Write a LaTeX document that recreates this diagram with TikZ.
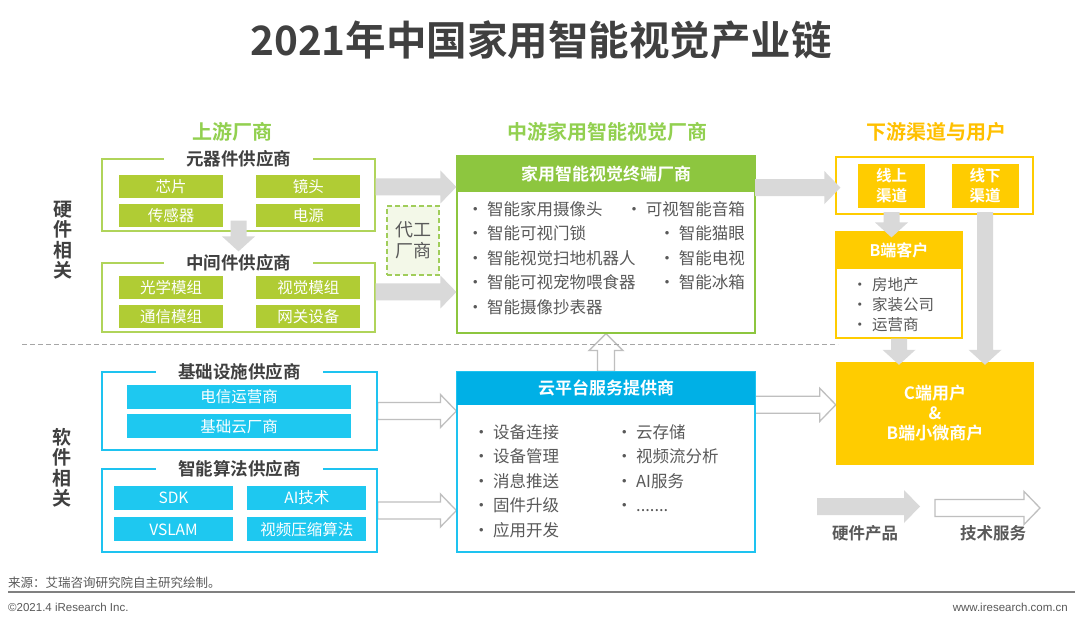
\documentclass[tikz,border=0pt]{standalone}
\usepackage{fontspec}
\setmainfont{Noto Sans CJK SC}[BoldFont={Noto Sans CJK SC Bold}]
\newfontfamily\latinfont{Liberation Sans}
\usetikzlibrary{positioning,calc,backgrounds}

\definecolor{titlegray}{RGB}{64,64,64}
\definecolor{txtgray}{RGB}{89,89,89}
\definecolor{secgreen}{RGB}{146,208,80}
\definecolor{termgreen}{RGB}{141,198,63}
\definecolor{greenline}{RGB}{176,212,90}
\definecolor{itemgreen}{RGB}{176,204,52}
\definecolor{oemline}{RGB}{160,205,90}
\definecolor{oemfill}{RGB}{243,248,232}
\definecolor{yel}{RGB}{255,204,0}
\definecolor{secyellow}{RGB}{255,192,0}
\definecolor{cyanline}{RGB}{30,195,240}
\definecolor{itemcyan}{RGB}{30,200,240}
\definecolor{cloudblue}{RGB}{0,176,230}
\definecolor{arrowgray}{RGB}{217,217,217}
\definecolor{hollowgray}{RGB}{191,191,191}
\definecolor{dashgray}{RGB}{166,166,166}
\definecolor{footgray}{RGB}{128,128,128}

\newcommand\bul{\makebox[20pt][l]{\textbullet}}

\begin{document}
\begin{tikzpicture}[
  x=1pt, y=-1pt,
  every node/.style={inner sep=0pt, text=txtgray},
  grp/.style={draw, line width=1.2pt},
  grptitle/.style={fill=white, inner xsep=22pt, inner ysep=1pt, text=titlegray, font=\bfseries\fontsize{17.5}{20}\selectfont},
  gitem/.style={fill=itemgreen, text=white, minimum width=104pt, minimum height=23pt, font=\fontsize{15.5}{18}\selectfont},
  citem/.style={fill=itemcyan, text=white, minimum height=24pt, font=\fontsize{15.5}{18}\selectfont},
  head/.style={anchor=north, text=white, font=\bfseries\fontsize{17}{20}\selectfont},
  lst/.style={align=left, anchor=north west, font=\fontsize{16.5}{24.5}\selectfont},
  sec/.style={font=\bfseries\fontsize{20}{24}\selectfont},
  side/.style={align=center, text=titlegray, font=\bfseries\fontsize{19}{20.5}\selectfont},
  ychan/.style={fill=yel, text=white, minimum width=67pt, minimum height=44pt, align=center, font=\bfseries\fontsize{15.5}{20}\selectfont},
  legend/.style={text=txtgray, font=\bfseries\fontsize{16.5}{20}\selectfont},
  gblk/.style={fill=arrowgray},
  hblk/.style={draw=hollowgray, line width=1.3pt, fill=white},
  rblk/.style={to path={let \p1=(\tikztostart), \p2=(\tikztotarget) in
    (\x1,\y1+8.5pt) -- (\x2-16pt,\y1+8.5pt) -- (\x2-16pt,\y1+16.5pt) -- (\x2,\y1)
    -- (\x2-16pt,\y1-16.5pt) -- (\x2-16pt,\y1-8.5pt) -- (\x1,\y1-8.5pt) -- cycle}},
  dblk/.style={to path={let \p1=(\tikztostart), \p2=(\tikztotarget) in
    (\x1-8pt,\y1) -- (\x1-8pt,\y2+15pt) -- (\x1-16.5pt,\y2+15pt) -- (\x1,\y2)
    -- (\x1+16.5pt,\y2+15pt) -- (\x1+8pt,\y2+15pt) -- (\x1+8pt,\y1) -- cycle}},
  ublk/.style={to path={let \p1=(\tikztostart), \p2=(\tikztotarget) in
    (\x1-8.5pt,\y1) -- (\x1-8.5pt,\y2-17pt) -- (\x1-17pt,\y2-17pt) -- (\x1,\y2)
    -- (\x1+17pt,\y2-17pt) -- (\x1+8.5pt,\y2-17pt) -- (\x1+8.5pt,\y1) -- cycle}}
]
\begin{scope}[on background layer]
\fill[white] (0,0) rectangle (1080,628);
\end{scope}
\useasboundingbox (0,0) rectangle (1080,628);

\node[text=titlegray, font=\bfseries\fontsize{40.5}{46}\selectfont] (title) at (541,40) {2021年中国家用智能视觉产业链};

\node[sec, text=secgreen] (upstream) at (232,132) {上游厂商};
\node[sec, text=secgreen] (midstream) at (607,132) {中游家用智能视觉厂商};
\node[sec, text=secyellow] (downstream) at (936,132) {下游渠道与用户};

\node[side] (hw) at (63,240) {硬\\件\\相\\关};
\node[side] (sw) at (62,468) {软\\件\\相\\关};

% upstream hardware
\node[grp, draw=greenline, minimum width=273pt, minimum height=72pt] (comp) at (238.5,195) {};
\node[grptitle] (comptitle) at (comp.north) {元器件供应商};
\node[gitem] (chip) at (171,186.5) {芯片};
\node[gitem, right=33pt of chip] (lens) {镜头};
\node[gitem, below=6pt of chip] (sensor) {传感器};
\node[gitem, below=6pt of lens] (power) {电源};

\node[grp, draw=greenline, minimum width=273pt, minimum height=69pt] (mid) at (238.5,297.5) {};
\node[grptitle] (midtitle) at (mid.north) {中间件供应商};
\node[gitem] (optic) at (171,287.5) {光学模组};
\node[gitem, right=33pt of optic] (vismod) {视觉模组};
\node[gitem, below=6pt of optic] (comm) {通信模组};
\node[gitem, below=6pt of vismod] (gateway) {网关设备};

\node[draw=oemline, line width=1.2pt, dash pattern=on 5pt off 3pt, fill=oemfill, minimum width=52pt, minimum height=69pt, align=center, font=\fontsize{18}{21}\selectfont] (oem) at (413,240.5) {代工\\厂商};

% midstream terminal makers
\node[grp, draw=termgreen, minimum width=298pt, minimum height=177pt] (term) at (606,244.5) {};
\node[head, fill=termgreen, minimum width=298pt, minimum height=36pt] (termhead) at (term.north) {家用智能视觉终端厂商};
\node[lst] (termleft) at (467,201) {\bul 智能家用摄像头\\ \bul 智能可视门锁\\ \bul 智能视觉扫地机器人\\ \bul 智能可视宠物喂食器\\ \bul 智能摄像抄表器};
\node[lst, align=right, anchor=north east] (termright) at (745,201) {\bul 可视智能音箱\\ \bul 智能猫眼\\ \bul 智能电视\\ \bul 智能冰箱};

% downstream
\node[grp, draw=yel, minimum width=197pt, minimum height=57pt] (chan) at (934.5,185.5) {};
\node[ychan] (online) at (891.5,186) {线上\\渠道};
\node[ychan] (offline) at (985,186) {线下\\渠道};
\node[grp, draw=yel, minimum width=126pt, minimum height=106pt] (bcli) at (899,285) {};
\node[head, fill=yel, minimum width=126pt, minimum height=37pt, font=\bfseries\fontsize{16}{20}\selectfont] (bclihead) at (bcli.north) {B端客户};
\node[lst, font=\fontsize{15.5}{20}\selectfont] (bclilist) at (852,277) {\bul 房地产\\ \bul 家装公司\\ \bul 运营商};
\node[fill=yel, text=white, minimum width=198pt, minimum height=103pt, align=center, font=\bfseries\fontsize{17}{20}\selectfont] (cusr) at (935,413.5) {C端用户\\\&\\B端小微商户};

% software
\node[grp, draw=cyanline, minimum width=275pt, minimum height=78pt] (infra) at (239.5,411) {};
\node[grptitle] (infratitle) at (infra.north) {基础设施供应商};
\node[citem, minimum width=224pt] (telecom) at (239,397) {电信运营商};
\node[citem, minimum width=224pt, below=5pt of telecom] (cloudv) {基础云厂商};

\node[grp, draw=cyanline, minimum width=275pt, minimum height=83pt] (algo) at (239.5,510.5) {};
\node[grptitle] (algotitle) at (algo.north) {智能算法供应商};
\node[citem, minimum width=119pt] (sdk) at (173.5,498) {SDK};
\node[citem, minimum width=119pt, right=14pt of sdk] (aitech) {AI技术};
\node[citem, minimum width=119pt, below=7pt of sdk] (vslam) {VSLAM};
\node[citem, minimum width=119pt, below=7pt of aitech] (vcodec) {视频压缩算法};

\node[grp, draw=cyanline, minimum width=298pt, minimum height=180pt] (cloud) at (606,462) {};
\node[head, fill=cloudblue, minimum width=298pt, minimum height=33pt] (cloudhead) at (cloud.north) {云平台服务提供商};
\node[lst] (cloudleft) at (473,424) {\bul 设备连接\\ \bul 设备管理\\ \bul 消息推送\\ \bul 固件升级\\ \bul 应用开发};
\node[lst] (cloudright) at (616,424) {\bul 云存储\\ \bul 视频流分析\\ \bul AI服务\\ \bul .......};

% hardware flow
\path[gblk] ([yshift=8pt]comp.east) to[rblk] (term.west);
\path[gblk] ([yshift=5.5pt]mid.east) to[rblk] (term.west);
\path[gblk] ([yshift=11pt]comp.south) to[dblk] ([yshift=11pt]mid.north);
\path[gblk] ([yshift=-14pt]termhead.east) to[rblk] ([xshift=5pt]chan.west);
\path[gblk] ([yshift=-4pt]online.south) to[dblk] ([yshift=-6pt]bclihead.north);
\path[gblk] (bcli.south) to[dblk] ([yshift=-3pt]cusr.north);
\path[gblk] ([yshift=-4pt]offline.south) to[dblk] ([yshift=-3pt]cusr.north);

% service flow
\begin{scope}[on background layer]
\path[hblk] (infra.east) to[rblk] (cloud.west);
\path[hblk] (algo.east) to[rblk] (cloud.west);
\path[hblk] (cloud.north) to[ublk] (term.south);
\path[hblk] (cloudhead.south east) to[rblk] (cusr.west);
\end{scope}

\draw[dashgray, line width=1pt, dash pattern=on 5pt off 3pt] (22,345) -- (838,345);

% legend
\coordinate (hwa) at (817,506.5);
\coordinate (hwb) at (920,506.5);
\path[gblk] (hwa) to[rblk] (hwb);
\node[legend] (hwlab) at (865,533) {硬件产品};
\coordinate (swa) at (935,508);
\coordinate (swb) at (1040,508);
\path[hblk] (swa) to[rblk] (swb);
\node[legend] (swlab) at (993,533) {技术服务};

% footer
\node[anchor=west, font=\fontsize{12.5}{14}\selectfont] (src) at (8,583) {来源：艾瑞咨询研究院自主研究绘制。};
\draw[footgray, line width=1.6pt] (8,592) -- (1075,592);
\node[anchor=west, font=\latinfont\fontsize{11.5}{14}\selectfont] (copyr) at (8,607) {©2021.4 iResearch Inc.};
\node[anchor=east, font=\latinfont\fontsize{11.5}{14}\selectfont] (web) at (1068,607) {www.iresearch.com.cn};
\end{tikzpicture}
\end{document}
